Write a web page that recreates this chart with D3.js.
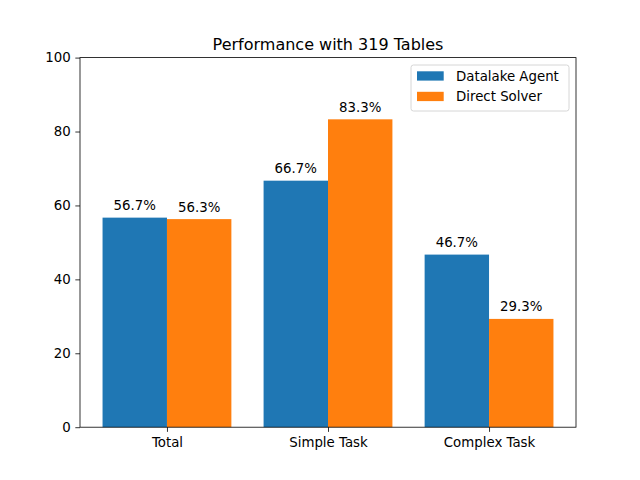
<!DOCTYPE html>
<html>
<head>
<meta charset="utf-8">
<script src="https://cdn.jsdelivr.net/npm/d3@7"></script>
<style>
  body { margin: 0; background: #fff; }
  text { font-family: "DejaVu Sans", sans-serif; fill: #000; }
</style>
</head>
<body>
<script>
var categories = ["Total", "Simple Task", "Complex Task"];
var seriesNames = ["Datalake Agent", "Direct Solver"];
var agentValues = [56.7, 66.7, 46.7];
var solverValues = [56.3, 83.3, 29.3];
var yTicks = [0, 20, 40, 60, 80, 100];
var colors = ["#1f77b4", "#ff7f0e"];

var width = 640, height = 480;
var axLeft = 80, axRight = 576, axTop = 57.6, axBottom = 427.2;

var svg = d3.select("body").append("svg")
    .attr("width", width)
    .attr("height", height);

var x = d3.scaleLinear().domain([-0.54, 2.54]).range([axLeft, axRight]);
var y = d3.scaleLinear().domain([0, 100]).range([axBottom, axTop]);

var series = [agentValues, solverValues];
var barW = 0.4;

series.forEach(function (vals, s) {
  var off = s === 0 ? -barW : 0;
  var g = svg.append("g");
  g.selectAll("rect")
      .data(vals)
    .enter().append("rect")
      .attr("x", function (d, i) { return x(i + off); })
      .attr("width", function () { return x(barW) - x(0); })
      .attr("y", function (d) { return y(d); })
      .attr("height", function (d) { return y(0) - y(d); })
      .attr("fill", colors[s]);
  g.selectAll("text")
      .data(vals)
    .enter().append("text")
      .attr("x", function (d, i) { return x(i + off + barW / 2); })
      .attr("y", function (d) { return y(d) - 7.5; })
      .attr("text-anchor", "middle")
      .style("font-size", "13.33px")
      .text(function (d) { return d.toFixed(1) + "%"; });
});

// axes
var yAxis = d3.axisLeft(y).tickValues(yTicks).tickSize(4.67).tickPadding(4.67);
svg.append("g")
    .attr("transform", "translate(" + axLeft + ",0)")
    .call(yAxis)
    .call(function (g) { g.select(".domain").remove(); })
    .selectAll("text").style("font-size", "13.33px").attr("font-family", null);

var xAxis = d3.axisBottom(x).tickValues([0, 1, 2])
    .tickFormat(function (d) { return categories[d]; })
    .tickSize(4.67).tickPadding(5.5);
svg.append("g")
    .attr("transform", "translate(0," + axBottom + ")")
    .call(xAxis)
    .call(function (g) { g.select(".domain").remove(); })
    .selectAll("text").style("font-size", "13.33px").attr("font-family", null);

svg.selectAll(".tick line").attr("stroke", "#000").attr("stroke-width", 0.8);

svg.append("rect")
    .attr("x", axLeft).attr("y", axTop)
    .attr("width", axRight - axLeft).attr("height", axBottom - axTop)
    .attr("fill", "none").attr("stroke", "#000").attr("stroke-width", 0.8);

// title
svg.append("text")
    .attr("x", (axLeft + axRight) / 2)
    .attr("y", axTop - 8)
    .attr("text-anchor", "middle")
    .style("font-size", "16px")
    .text("Performance with 319 Tables");

// legend
var lg = svg.append("g");
lg.append("rect")
    .attr("x", 411).attr("y", 65)
    .attr("width", 158).attr("height", 46)
    .attr("rx", 2.5)
    .attr("fill", "#fff").attr("fill-opacity", 0.8)
    .attr("stroke", "#cccccc").attr("stroke-width", 0.8);
seriesNames.forEach(function (name, i) {
  var yy = 76 + i * 20.5;
  lg.append("rect")
      .attr("x", 417).attr("y", yy - 4.7)
      .attr("width", 26.7).attr("height", 9.3)
      .attr("fill", colors[i]);
  lg.append("text")
      .attr("x", 456).attr("y", yy + 4.8)
      .style("font-size", "13.33px")
      .text(name);
});
</script>
</body>
</html>
